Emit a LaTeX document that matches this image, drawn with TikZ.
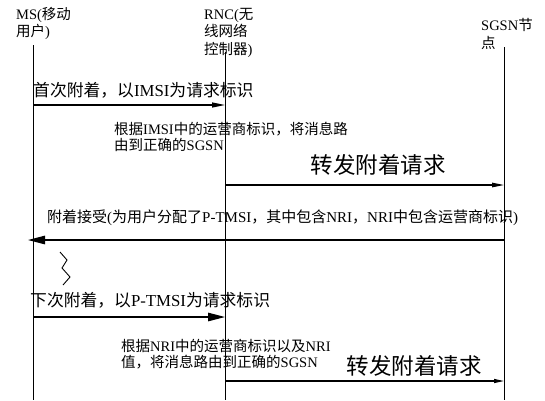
\documentclass[tikz,border=0pt]{standalone}
\usepackage{fontspec}
\setmainfont{Liberation Serif}
\newfontfamily\cjk{Noto Sans CJK SC}
\usetikzlibrary{arrows.meta}
\newcommand{\zh}[1]{{\cjk #1}}

\begin{document}
\begin{tikzpicture}[
    x=1pt, y=-1pt,
    % Text Styles
    head/.style={anchor=west, inner sep=0pt, align=left, font=\fontsize{14.5}{17.5}\selectfont},
    msgtext/.style={anchor=west, inner sep=0pt, font=\fontsize{16.8}{20}\selectfont},
    replytext/.style={msgtext, font=\fontsize{15}{18}\selectfont},
    notetext/.style={anchor=west, inner sep=0pt, align=left, font=\fontsize{14.5}{16}\selectfont},
    bigtext/.style={anchor=center, inner sep=0pt, font=\fontsize{22.5}{26}\selectfont},
    % Line Styles
    lifeline/.style={draw, line width=1pt},
    conn/.style={draw, line width=1.2pt, -{Triangle[length=12pt, width=4.5pt]}},
    conn_big/.style={conn, -{Triangle[length=17pt, width=8.5pt]}}
]
\useasboundingbox (0,0) rectangle (545,400);

% =================================================================
% LIFELINES
% =================================================================
\node[head] (msHead) at (16,23.5) {MS(\zh{移动}\\\zh{用户})};
\node[head] (rncHead) at (204,32.5) {RNC(\zh{无}\\\zh{线网络}\\\zh{控制器})};
\node[head] (sgsnHead) at (481,34) {SGSN\zh{节}\\\zh{点}};

\coordinate (msTop) at (33,45);    \coordinate (msBot) at (33,400);
\coordinate (rncTop) at (225,52);  \coordinate (rncBot) at (225,400);
\coordinate (sgsnTop) at (504,47); \coordinate (sgsnBot) at (504,400);

\draw[lifeline] (msTop) -- (msBot);
\draw[lifeline] (rncTop) -- (rncBot);
\draw[lifeline] (sgsnTop) -- (sgsnBot);

% message levels on each lifeline
\foreach \lvl/\yy in {a/105, b/185, c/240, d/317, e/381} {
    \coordinate (ms-\lvl) at (msTop |- 0,\yy);
    \coordinate (rnc-\lvl) at (rncTop |- 0,\yy);
    \coordinate (sgsn-\lvl) at (sgsnTop |- 0,\yy);
}

% =================================================================
% FIRST ATTACH
% =================================================================
\node[msgtext] (attach1) at (33,90) {\zh{首次附着，以}IMSI\zh{为请求标识}};
\draw[conn, -{Triangle[length=13pt, width=5pt]}] (ms-a) -- (rnc-a);

\node[notetext] (route1) at (114,137) {\zh{根据}IMSI\zh{中的运营商标识，将消息路}\\\zh{由到正确的}SGSN};

\node[bigtext] (fwd1) at (378,165) {\zh{转发附着请求}};
\draw[conn] (rnc-b) -- (sgsn-b);

% --- Accept ---
\node[replytext] (accept) at (47,218) {\zh{附着接受}(\zh{为用户分配了}P-TMSI\zh{，其中包含}NRI\zh{，}NRI\zh{中包含运营商标识})};
\draw[conn_big] (sgsn-c) -- ([xshift=-5pt]ms-c);

% time break
\draw[line width=0.9pt] (60,252) -- (67,260) -- (62,268) -- (70,277) -- (63,285);

% =================================================================
% NEXT ATTACH
% =================================================================
\node[msgtext] (attach2) at (30,300) {\zh{下次附着，以}P-TMSI\zh{为请求标识}};
\draw[conn_big] (ms-d) -- (rnc-d);

\node[notetext] (route2) at (121,354) {\zh{根据}NRI\zh{中的运营商标识以及}NRI\\\zh{值，将消息路由到正确的}SGSN};

\node[bigtext] (fwd2) at (414,366) {\zh{转发附着请求}};
\draw[conn, -{Triangle[length=10pt, width=4pt]}] (rnc-e) -- (sgsn-e);

\end{tikzpicture}
\end{document}
